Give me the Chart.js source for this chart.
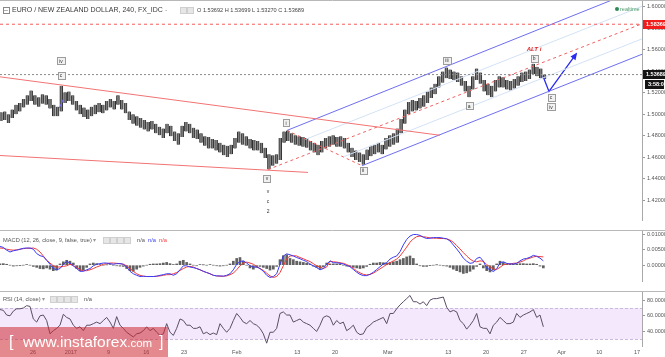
<!DOCTYPE html>
<html><head><meta charset="utf-8">
<script src="https://cdn.jsdelivr.net/npm/chart.js@4.4.1/dist/chart.umd.min.js"></script>
<style>
html,body{margin:0;padding:0;background:#fff;width:665px;height:357px;overflow:hidden}
#wrap{position:relative;width:665px;height:357px;font-family:"Liberation Sans",Arial,sans-serif}
canvas{position:absolute;left:0}
.t{position:absolute;white-space:nowrap;color:#404040}
.sq{position:absolute;width:5px;height:5px;border:1px solid #cfcfcf;background:#e6e6e6}
</style></head><body><div id="wrap">
<canvas id="cPrice" width="665" height="231" style="top:0"></canvas>
<canvas id="cMacd" width="665" height="61" style="top:231px"></canvas>
<canvas id="cRsi" width="665" height="65" style="top:292px"></canvas>

<div class="sq" style="left:3px;top:7px;background:#fff;border-color:#888"></div>
<div class="t" style="left:4px;top:6px;font-size:7px;line-height:8px;color:#666">&#8211;</div>
<div class="t" style="left:12px;top:6px;font-size:7px;line-height:8px;color:#3a3a3a">EURO / NEW ZEALAND DOLLAR, 240, FX_IDC <span style="color:#999">-</span></div>
<div class="sq" style="left:180px;top:7px"></div><div class="sq" style="left:187px;top:7px"></div>
<div class="t" style="left:197px;top:7px;font-size:5.6px;line-height:6px;color:#444">O 1.53692 H 1.53699 L 1.53270 C 1.53689</div>
<div style="position:absolute;left:615px;top:7px;width:4px;height:4px;border-radius:2px;background:#2e8a55"></div>
<div class="t" style="left:620px;top:6px;font-size:5.5px;line-height:6px;color:#4a9a6a">realtime</div>

<div class="t" style="left:3px;top:237px;font-size:5.7px;line-height:6px;color:#555">MACD (12, 26, close, 9, false, true) <span style="color:#999">&#9662;</span></div>
<div class="sq" style="left:103px;top:237px"></div><div class="sq" style="left:110px;top:237px"></div><div class="sq" style="left:117px;top:237px"></div><div class="sq" style="left:124px;top:237px"></div>
<div class="t" style="left:137px;top:237px;font-size:5.7px;line-height:6px;color:#555">n/a</div>
<div class="t" style="left:148px;top:237px;font-size:5.7px;line-height:6px;color:#3b3bf5">n/a</div>
<div class="t" style="left:159px;top:237px;font-size:5.7px;line-height:6px;color:#f23b3b">n/a</div>

<div class="t" style="left:3px;top:296px;font-size:5.7px;line-height:6px;color:#555">RSI (14, close) <span style="color:#999">&#9662;</span></div>
<div class="sq" style="left:50px;top:296px"></div><div class="sq" style="left:57px;top:296px"></div><div class="sq" style="left:64px;top:296px"></div><div class="sq" style="left:71px;top:296px"></div>
<div class="t" style="left:84px;top:296px;font-size:5.7px;line-height:6px;color:#555">n/a</div>

<div style="position:absolute;left:0;top:327px;width:168px;height:30px;background:rgba(205,40,50,0.55)"></div>
<div class="t" style="left:9px;top:333px;font-size:16px;line-height:18px;color:#fff">[</div>
<div class="t" style="left:23px;top:333px;font-size:15.5px;line-height:18px;color:#fff">www.instaforex<span style="font-size:11.5px">.com</span></div>
<div class="t" style="left:159px;top:333px;font-size:16px;line-height:18px;color:#fff">]</div>
</div>
<script>
// ---------- DATA ----------
// time axis: trading days, 0 = Mon 26 Dec 2016 (weekends removed)
const xTickDays   = [0, 5, 10, 15, 20, 27, 35, 40, 47, 55, 60, 65, 70, 75, 80];
const xTickLabels = ['26','2017','9','16','23','Feb','13','20','Mar','13','20','27','Apr','10','17'];
const priceTicks  = [1.42,1.44,1.46,1.48,1.50,1.52,1.54,1.56,1.58,1.60];
const macdTicks   = [0, 0.005, 0.010];
const rsiTicks    = [40, 60, 80];

// half-day price bars (high / low)
const barStartDay = -4.25, barStepDay = 0.5;
const priceHigh = [1.5018,1.5027,1.5000,1.5044,1.5089,1.5106,1.5142,1.5177,1.5221,1.5177,
1.5159,1.5186,1.5177,1.5142,1.5089,1.5071,1.5265,1.5204,1.5212,1.5177,
1.5124,1.5089,1.5062,1.5044,1.5071,1.5089,1.5106,1.5089,1.5124,1.5142,
1.5124,1.5177,1.5133,1.5106,1.5027,1.5000,1.4982,1.4965,1.4947,1.4929,
1.4938,1.4912,1.4885,1.4867,1.4912,1.4894,1.4841,1.4823,1.4894,1.4929,
1.4912,1.4876,1.4858,1.4823,1.4796,1.4788,1.4770,1.4761,1.4735,1.4717,
1.4708,1.4717,1.4779,1.4841,1.4823,1.4796,1.4770,1.4761,1.4752,1.4735,
1.4690,1.4628,1.4619,1.4628,1.4779,1.4841,1.4850,1.4823,1.4805,1.4796,
1.4788,1.4779,1.4752,1.4735,1.4717,1.4752,1.4779,1.4796,1.4805,1.4788,
1.4796,1.4779,1.4735,1.4690,1.4664,1.4646,1.4628,1.4673,1.4708,1.4717,
1.4735,1.4717,1.4779,1.4805,1.4823,1.4867,1.4956,1.5044,1.5115,1.5133,
1.5124,1.5151,1.5177,1.5212,1.5248,1.5283,1.5354,1.5398,1.5434,1.5416,
1.5398,1.5389,1.5354,1.5310,1.5265,1.5354,1.5425,1.5389,1.5319,1.5283,
1.5265,1.5319,1.5354,1.5345,1.5319,1.5310,1.5327,1.5354,1.5389,1.5398,
1.5416,1.5469,1.5442,1.5425,1.5370];
const priceLow = [1.4938,1.4947,1.4920,1.4965,1.5000,1.5027,1.5062,1.5089,1.5124,1.5089,
1.5071,1.5097,1.5089,1.5053,1.4982,1.4982,1.5027,1.5106,1.5124,1.5089,
1.5035,1.5000,1.4974,1.4956,1.4982,1.5000,1.5018,1.5009,1.5035,1.5062,
1.5044,1.5089,1.5044,1.5009,1.4947,1.4912,1.4894,1.4876,1.4858,1.4841,
1.4858,1.4823,1.4805,1.4779,1.4823,1.4796,1.4752,1.4717,1.4788,1.4841,
1.4823,1.4779,1.4770,1.4735,1.4708,1.4681,1.4681,1.4664,1.4646,1.4619,
1.4602,1.4628,1.4681,1.4735,1.4717,1.4708,1.4681,1.4664,1.4664,1.4637,
1.4593,1.4487,1.4522,1.4540,1.4575,1.4735,1.4752,1.4735,1.4717,1.4708,
1.4699,1.4690,1.4664,1.4646,1.4619,1.4646,1.4681,1.4699,1.4717,1.4699,
1.4699,1.4681,1.4646,1.4602,1.4575,1.4557,1.4531,1.4575,1.4611,1.4628,
1.4646,1.4628,1.4673,1.4699,1.4717,1.4735,1.4823,1.4912,1.5000,1.5027,
1.5035,1.5053,1.5071,1.5106,1.5151,1.5186,1.5248,1.5292,1.5336,1.5327,
1.5319,1.5301,1.5265,1.5212,1.5159,1.5230,1.5319,1.5283,1.5212,1.5177,
1.5159,1.5212,1.5248,1.5248,1.5230,1.5221,1.5239,1.5265,1.5301,1.5310,
1.5327,1.5372,1.5354,1.5336,1.5327];
const lastClose = 1.53689, altLevel = 1.58369, timerText = '3:58:08';

// indicators sampled on a common time grid
const indStartDay = -4.371, indStepDay = 0.4415;
const macdLine = [0.0061,0.0058,0.0049,0.0043,0.0047,0.0049,0.0052,0.0055,0.0056,0.0056,
0.0052,0.0038,0.0031,0.0028,0.0016,0.0003,-0.0011,-0.0015,-0.0011,0.0003,
0.0012,0.0007,-0.0002,-0.0011,-0.0020,-0.0020,-0.0015,-0.0011,-0.0002,0.0003,
0.0005,0.0007,0.0007,0.0005,0.0003,0.0005,0.0005,0.0003,-0.0006,-0.0020,
-0.0028,-0.0033,-0.0037,-0.0036,-0.0037,-0.0037,-0.0037,-0.0036,-0.0033,-0.0031,
-0.0028,-0.0028,-0.0033,-0.0028,-0.0015,-0.0002,-0.0002,-0.0006,-0.0008,-0.0011,
-0.0015,-0.0020,-0.0024,-0.0028,-0.0033,-0.0035,-0.0035,-0.0036,-0.0033,-0.0028,
-0.0015,0.0003,0.0012,0.0014,0.0007,-0.0002,-0.0006,-0.0006,-0.0011,-0.0020,
-0.0033,-0.0040,-0.0037,-0.0028,0.0003,0.0030,0.0037,0.0034,0.0030,0.0025,
0.0021,0.0016,0.0012,0.0003,-0.0002,-0.0008,-0.0015,-0.0011,0.0003,
0.0014,0.0008,0.0008,0.0006,0.0004,-0.0001,-0.0005,-0.0014,-0.0023,-0.0030,
-0.0034,-0.0034,-0.0030,-0.0023,-0.0014,-0.0005,0.0004,0.0008,0.0020,0.0026,
0.0030,0.0044,0.0066,0.0084,0.0095,0.0100,0.0100,0.0097,0.0091,0.0087,
0.0088,0.0090,0.0090,0.0090,0.0088,0.0086,0.0079,0.0066,0.0053,0.0039,
0.0023,0.0013,0.0006,0.0008,0.0022,0.0026,0.0013,-0.0010,-0.0014,-0.0021,
-0.0012,0.0008,0.0011,0.0006,0.0004,0.0004,0.0006,0.0014,0.0020,0.0022,
0.0026,0.0032,0.0029,0.0023,0.0014];
const signalLine = [0.0056,0.0055,0.0052,0.0050,0.0049,0.0050,0.0052,0.0054,0.0055,0.0055,
0.0056,0.0052,0.0043,0.0030,0.0016,0.0007,-0.0002,-0.0006,-0.0006,-0.0004,
-0.0002,0.0003,-0.0002,-0.0006,-0.0015,-0.0018,-0.0018,-0.0015,-0.0011,-0.0006,
-0.0002,0.0003,0.0005,0.0007,0.0007,0.0006,0.0005,0.0003,-0.0002,-0.0011,
-0.0020,-0.0028,-0.0033,-0.0036,-0.0037,-0.0037,-0.0037,-0.0036,-0.0035,-0.0033,
-0.0031,-0.0031,-0.0028,-0.0024,-0.0017,-0.0011,-0.0006,-0.0004,-0.0006,-0.0011,
-0.0015,-0.0020,-0.0024,-0.0028,-0.0033,-0.0035,-0.0036,-0.0036,-0.0035,-0.0031,
-0.0026,-0.0015,-0.0002,0.0007,0.0010,0.0007,0.0003,-0.0004,-0.0011,-0.0017,
-0.0026,-0.0035,-0.0040,-0.0037,-0.0024,-0.0002,0.0021,0.0030,0.0031,0.0030,
0.0025,0.0021,0.0016,0.0012,0.0005,-0.0002,-0.0006,-0.0011,-0.0006,
0.0013,0.0011,0.0010,0.0008,0.0006,0.0002,-0.0003,-0.0010,-0.0019,-0.0025,
-0.0030,-0.0032,-0.0030,-0.0026,-0.0019,-0.0012,-0.0005,0.0002,0.0008,0.0014,
0.0020,0.0030,0.0044,0.0059,0.0075,0.0086,0.0093,0.0095,0.0093,0.0091,
0.0089,0.0088,0.0088,0.0087,0.0087,0.0086,0.0082,0.0075,0.0064,0.0053,
0.0041,0.0030,0.0020,0.0013,0.0011,0.0014,0.0013,0.0002,-0.0005,-0.0012,
-0.0014,-0.0007,0.0001,0.0004,0.0004,0.0006,0.0007,0.0010,0.0014,0.0020,
0.0023,0.0027,0.0029,0.0028,0.0027];
const macdHist = [0.0004,0.0005,0.0003,0,-0.0003,-0.0002,-0.0001,0,0.0002,0,
-0.0004,-0.0007,-0.0011,-0.0012,-0.0009,-0.0013,-0.0018,-0.0016,0.0004,0.0011,
0.0016,0.0013,0.0007,-0.0011,-0.0018,-0.0016,-0.0007,0.0004,0.0007,0.0005,
0.0002,0,0.0001,0.0002,0,-0.0002,-0.0003,-0.0004,-0.0011,-0.0018,
-0.0020,-0.0013,-0.0007,-0.0003,0,0.0003,0.0004,0.0004,0.0005,0.0007,
0.0009,0.0005,0.0002,0.0004,0.0013,0.0016,0.0009,0.0004,0,-0.0002,
0.0002,0.0001,0,0.0002,0,-0.0002,-0.0003,-0.0002,0,0.0004,
0.0013,0.0022,0.0025,0.0013,0,-0.0009,-0.0013,-0.0007,-0.0004,-0.0007,
-0.0011,-0.0016,-0.0013,-0.0004,0.0018,0.0031,0.0034,0.0022,0.0018,0.0013,
0.0011,0.0009,0.0007,0.0004,-0.0003,-0.0007,-0.0011,-0.0005,0.0007,
0.0004,0.0004,0.0004,0.0003,0,-0.0003,-0.0004,-0.0007,-0.0009,-0.0011,
-0.0009,-0.0004,0.0003,0.0007,0.0007,0.0009,0.0008,0.0007,0.0009,0.0011,
0.0013,0.0018,0.0022,0.0027,0.0030,0.0022,0.0004,-0.0002,-0.0004,-0.0004,
-0.0001,0,0.0001,0,-0.0002,-0.0003,-0.0007,-0.0013,-0.0018,-0.0022,
-0.0027,-0.0025,-0.0020,-0.0013,-0.0004,0.0004,-0.0009,-0.0018,-0.0022,-0.0016,
0.0004,0.0013,0.0009,0.0004,0.0004,0.0003,0.0004,0.0005,0.0005,0.0004,
0.0004,0.0005,0.0003,-0.0003,-0.0009];
const rsiValues = [68,67,61,60,66,69,69,70,73,72,
56,52,60,61,54,37,41,44,48,62,
58,56,48,44,46,41,48,48,50,52,
50,54,58,52,44,59,48,44,39,36,
33,37,38,41,46,41,44,39,35,37,
50,39,35,44,56,54,48,48,44,44,
46,37,39,36,38,36,50,44,39,44,
54,63,58,52,50,54,50,48,44,37,
25,39,39,44,63,65,61,61,52,54,
56,52,50,48,44,40,48,58,60,
58,48,54,50,52,41,44,48,39,36,
37,45,48,52,54,56,58,50,63,63,
69,74,78,82,86,78,78,75,78,73,
80,82,82,83,84,71,65,67,65,54,
50,43,48,54,63,46,44,44,37,48,
52,58,54,50,50,52,63,58,61,63,
65,68,58,61,46];

// analyst drawings, anchored in (trading day, price)
const drawings = [
  {days:[-4.37,53.9],  prices:[1.5348,1.4805], color:'#f27373', dash:[]},      // falling channel top
  {days:[-4.37,36.42], prices:[1.4617,1.4460], color:'#f27373', dash:[]},      // falling channel bottom
  {days:[33.64,80.66], prices:[1.4850,1.6174], color:'#6e6ef2', dash:[]},      // pitchfork upper tine
  {days:[43.58,80.66], prices:[1.4522,1.5558], color:'#6e6ef2', dash:[]},      // pitchfork lower tine
  {days:[36.13,80.66], prices:[1.4768,1.6003], color:'#d3e2f6', dash:[]},      // inner level
  {days:[41.09,80.66], prices:[1.4604,1.5701], color:'#d3e2f6', dash:[]},      // inner level
  {days:[31.13,80.66], prices:[1.4487,1.5841], color:'#f26060', dash:[3,3]},   // median line
  {days:[33.64,43.58], prices:[1.4850,1.4522], color:'#f26060', dash:[3,3]},   // i - ii
  {days:[3.49,4.01],   prices:[1.5059,1.5139], color:'#6e6ef2', dash:[]}
];
const arrowDays = [67.55, 68.34, 71.92], arrowPrices = [1.5354, 1.5212, 1.5558];
const waveLabels = [
  {t:'iv', d:3.71, p:1.5496, box:true}, {t:'c', d:3.71, p:1.5363, box:true},
  {t:'i', d:33.51, p:1.4920, box:true}, {t:'v', d:30.99, p:1.4407, box:true},
  {t:'v', d:31.13, p:1.4283}, {t:'c', d:31.13, p:1.4195}, {t:'2', d:31.13, p:1.4097},
  {t:'ii', d:43.71, p:1.4478, box:true}, {t:'iii', d:54.83, p:1.5504, box:true},
  {t:'a', d:57.75, p:1.5080, box:true}, {t:'b', d:66.36, p:1.5522, box:true},
  {t:'c', d:68.61, p:1.5159, box:true}, {t:'iv', d:68.61, p:1.5071, box:true},
  {t:'ALT i', d:66.36, p:1.5602, alt:true}
];

// ---------- CHARTS ----------
const FONT = '"Liberation Sans", Arial, sans-serif';
Chart.defaults.font.family = FONT;
const X_MIN = -4.371, X_MAX = 80.66;

function xAxis(show){
  return {type:'linear', min:X_MIN, max:X_MAX, display:show, offset:false,
    afterBuildTicks(s){ s.ticks = xTickDays.map(v=>({value:v})); },
    ticks:{autoSkip:false, maxRotation:0, padding:3, color:'#555', font:{size:5.5}, callback:(v,i)=>xTickLabels[i]},
    grid:{display:false, drawTicks:false, offset:false}, border:{display:false},
    afterFit(s){ s.height = 11; s.paddingLeft = 0; s.paddingRight = 0; }};
}
function yAxis(min, max, ticks, fmt){
  return {position:'right', min, max,
    afterBuildTicks(s){ s.ticks = ticks.map(v=>({value:v})); },
    ticks:{autoSkip:false, padding:2, color:'#555', font:{size:5.5}, callback:v=>fmt(v)},
    grid:{drawOnChartArea:false, drawTicks:true, tickLength:3, color:'#999'},
    border:{display:true, color:'#a8a8a8'},
    afterFit(s){ s.width = 23; s.paddingTop = 0; s.paddingBottom = 0; }};
}
const frame = {id:'frame', afterDraw(chart, a, opts){
  const c = chart.ctx; c.save(); c.strokeStyle = '#b8b8b8'; c.lineWidth = 1;
  (opts.lines || []).forEach(y=>{ c.beginPath(); c.moveTo(0, y+0.5); c.lineTo(chart.width, y+0.5); c.stroke(); });
  c.restore();
}};
const base = {responsive:false, animation:false, events:[], devicePixelRatio:1,
  layout:{padding:0}, plugins:{legend:{display:false}, tooltip:{enabled:false}}};

function seg(days, prices){ return days.map((d,i)=>({x:d, y:prices[i]})); }
function lineDs(data, color, width, dash){
  return {type:'line', data, borderColor:color, borderWidth:width, borderDash:dash||[], pointRadius:0, fill:false, tension:0, order:0};
}

// price panel
const priceDatasets = [
  lineDs(seg([X_MIN, X_MAX],[altLevel, altLevel]), '#f45a5a', 1, [3,3]),
  lineDs(seg([X_MIN, X_MAX],[lastClose, lastClose]), '#8a8a8a', 1, [2,2]),
  ...drawings.map(l=>lineDs(seg(l.days, l.prices), l.color, 1, l.dash)),
  lineDs(seg(arrowDays, arrowPrices), '#2b2bf0', 1.3),
  {type:'bar', order:2, data: priceHigh.map((h,i)=>({x: barStartDay + i*barStepDay, y:[priceLow[i], h]})),
   backgroundColor:'#7c7c7c', borderColor:'#2e2e2e', borderWidth:{left:1,right:1,top:0,bottom:0},
   borderSkipped:false, barThickness:3}
];
const annot = {id:'annot',
  afterDatasetsDraw(chart){
    const {ctx, scales:{x, y}} = chart;
    ctx.save();
    const n = arrowDays.length;
    const x1 = x.getPixelForValue(arrowDays[n-2]), y1 = y.getPixelForValue(arrowPrices[n-2]);
    const x2 = x.getPixelForValue(arrowDays[n-1]), y2 = y.getPixelForValue(arrowPrices[n-1]);
    const ang = Math.atan2(y2-y1, x2-x1);
    ctx.fillStyle = '#2b2bf0'; ctx.beginPath(); ctx.moveTo(x2 + Math.cos(ang)*2, y2 + Math.sin(ang)*2);
    ctx.lineTo(x2 + Math.cos(ang+2.6)*6, y2 + Math.sin(ang+2.6)*6);
    ctx.lineTo(x2 + Math.cos(ang-2.6)*6, y2 + Math.sin(ang-2.6)*6); ctx.closePath(); ctx.fill();
    waveLabels.forEach(l=>{
      const px = x.getPixelForValue(l.d), py = y.getPixelForValue(l.p);
      ctx.textAlign = 'center'; ctx.textBaseline = 'middle';
      if (l.alt){ ctx.font = 'italic bold 6px ' + FONT; ctx.fillStyle = '#e02828'; ctx.fillText(l.t, px, py); return; }
      ctx.font = '5px ' + FONT;
      if (l.box){
        const w = Math.ceil(ctx.measureText(l.t).width) + 4, h = 7;
        const bx = Math.round(px - w/2) + 0.5, by = Math.round(py - h/2) + 0.5;
        ctx.fillStyle = '#f1f1f1'; ctx.fillRect(bx, by, w, h);
        ctx.strokeStyle = '#9c9c9c'; ctx.lineWidth = 1; ctx.strokeRect(bx, by, w, h);
      }
      ctx.fillStyle = '#333'; ctx.fillText(l.t, px, py + 0.5);
    });
    ctx.restore();
  },
  afterDraw(chart){
    const {ctx, scales:{y}} = chart;
    ctx.save(); ctx.font = 'bold 5.5px ' + FONT; ctx.textAlign = 'left'; ctx.textBaseline = 'middle';
    const box = (text, val, dy, bg, x0, w)=>{
      const py = y.getPixelForValue(val) + dy;
      ctx.fillStyle = bg; ctx.fillRect(x0, Math.round(py - 4.5), w, 9);
      ctx.fillStyle = '#fff'; ctx.fillText(text, x0 + 3, py);
    };
    box(altLevel.toFixed(5), altLevel, 0, '#f21c1c', 643, 22);
    box(lastClose.toFixed(5), lastClose, 0, '#141414', 643, 22);
    box(timerText, lastClose, 9.5, '#141414', 645, 19);
    ctx.restore();
  }
};
new Chart(document.getElementById('cPrice'), {type:'bar', data:{datasets:priceDatasets},
  options:{...base, plugins:{...base.plugins, frame:{lines:[0,230]}},
    scales:{x:xAxis(false), y:yAxis(1.40177, 1.6062, priceTicks, v=>v.toFixed(5))}},
  plugins:[frame, annot]});

// MACD panel
const indX = i => indStartDay + i*indStepDay;
new Chart(document.getElementById('cMacd'), {type:'bar',
  data:{datasets:[
    lineDs(macdLine.map((v,i)=>({x:indX(i), y:v})), '#3b3bf5', 1),
    lineDs(signalLine.map((v,i)=>({x:indX(i), y:v})), '#f23b3b', 1),
    {type:'bar', order:2, data: macdHist.map((v,i)=>({x:indX(i), y:v})), backgroundColor:'#626262', barThickness:2}
  ]},
  options:{...base, plugins:{...base.plugins, frame:{lines:[60]}},
    scales:{x:xAxis(false), y:yAxis(-0.005161, 0.011151, macdTicks, v=>v.toFixed(5))}},
  plugins:[frame]});

// RSI panel
const band = {id:'band', beforeDatasetsDraw(chart){
  const {ctx, chartArea:a, scales:{y}} = chart;
  const y70 = y.getPixelForValue(70), y30 = y.getPixelForValue(30);
  ctx.save(); ctx.fillStyle = '#f4e9fc'; ctx.fillRect(a.left, y70, a.right - a.left, y30 - y70);
  ctx.strokeStyle = '#c9b9dc'; ctx.setLineDash([3,2]); ctx.lineWidth = 1;
  [y70, y30].forEach(v=>{ ctx.beginPath(); ctx.moveTo(a.left, Math.round(v)+0.5); ctx.lineTo(a.right, Math.round(v)+0.5); ctx.stroke(); });
  ctx.restore();
}};
new Chart(document.getElementById('cRsi'), {type:'line',
  data:{datasets:[lineDs(rsiValues.map((v,i)=>({x:indX(i), y:v})), '#5b4d66', 1)]},
  options:{...base, scales:{x:xAxis(true), y:yAxis(21.44, 90.45, rsiTicks, v=>v.toFixed(4))}},
  plugins:[band]});
</script>
</body></html>
